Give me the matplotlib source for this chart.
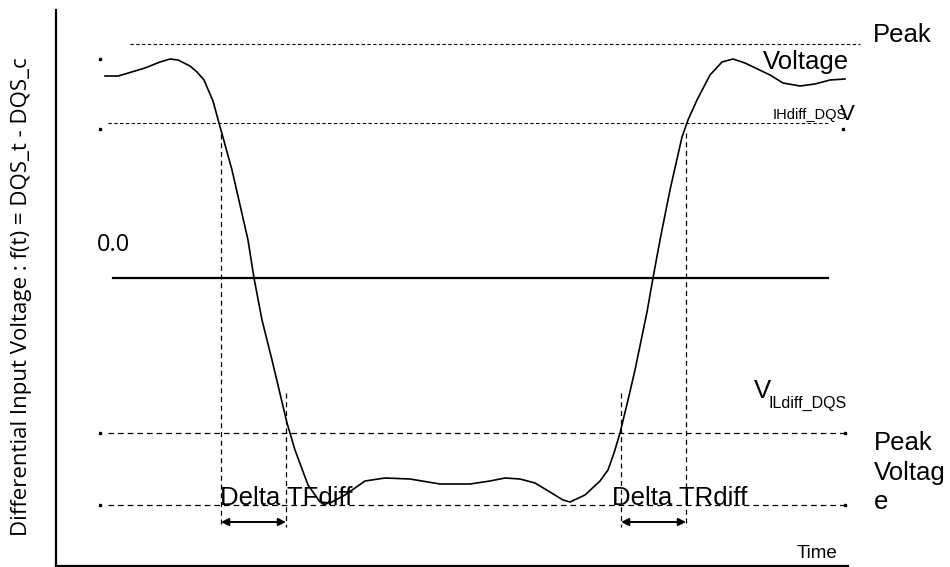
import matplotlib
matplotlib.use("Agg")
import matplotlib.pyplot as plt

# waveform (x in px from left, y in px from top)
wave_x = [105, 118, 125, 145, 160, 170, 178, 190, 197, 204, 213, 219, 232, 248, 254,
          262, 272, 287, 295, 308, 320, 330, 345, 365, 385, 410, 440, 470, 490, 505,
          520, 535, 550, 563, 570, 585, 600, 608, 614, 620, 628, 635, 647, 653, 660,
          670, 682, 688, 697, 710, 722, 733, 745, 770, 783, 800, 815, 830, 845]
wave_y = [76, 76, 74, 68, 62, 59, 60, 66, 72, 80, 101, 123, 170, 240, 278,
          320, 360, 423, 450, 485, 502, 503, 495, 481, 478, 479, 484, 484, 481, 478,
          479, 483, 492, 500, 502, 495, 481, 470, 453, 433, 400, 370, 312, 278, 240,
          190, 137, 120, 100, 75, 62, 59, 63, 75, 83, 86, 84, 80, 79]

# reference levels
peak_hi = 44
vih = 123
zero = 278
vil = 433
peak_lo = 505

# timing markers
tf_start, tf_end = 221, 286
tr_start, tr_end = 621, 686
arrow_y = 522

fig = plt.figure(figsize=(9.5, 5.67), dpi=100)
ax = fig.add_axes([0, 0, 1, 1])
ax.set_xlim(0, 950)
ax.set_ylim(567, 0)
ax.axis("off")

k = "black"
# axes
ax.plot([56, 56], [10, 566], color=k, lw=1.6)
ax.plot([56, 848], [566, 566], color=k, lw=1.6)

# horizontal levels
fine = (0, (3, 2.2))
ax.plot([130, 860], [peak_hi, peak_hi], color=k, lw=0.8, ls=fine)
ax.plot([108, 828], [vih, vih], color=k, lw=0.8, ls=fine)
ax.plot([113, 828], [zero, zero], color=k, lw=1.6)
med = (0, (4.5, 3.2))
ax.plot([108, 845], [vil, vil], color=k, lw=0.9, ls=med)
ax.plot([108, 845], [peak_lo, peak_lo], color=k, lw=0.9, ls=med)

# little end dots
ax.plot([100, 100, 100, 100, 843, 845, 845],
        [59, 129, vil, peak_lo, 129, vil, peak_lo], "s", color=k, ms=1.6)

# vertical markers
vert = (0, (4, 3))
ax.plot([tf_start, tf_start], [134, 527], color=k, lw=0.9, ls=vert)
ax.plot([tf_end, tf_end], [393, 527], color=k, lw=0.9, ls=vert)
ax.plot([tr_start, tr_start], [393, 527], color=k, lw=0.9, ls=vert)
ax.plot([tr_end, tr_end], [133, 527], color=k, lw=0.9, ls=vert)

for a, b in [(tf_start, tf_end), (tr_start, tr_end)]:
    ax.annotate("", xy=(a, arrow_y), xytext=(b, arrow_y),
                arrowprops=dict(arrowstyle="<|-|>", color=k, lw=1.4,
                                mutation_scale=11, shrinkA=0, shrinkB=0))

# waveform
ax.plot(wave_x, wave_y, color=k, lw=1.2)

sans = "Liberation Sans"
big = 18.5
ax.text(873, 35, "Peak", fontsize=big, family=sans, va="center", ha="left")
ax.text(763, 62, "Voltage", fontsize=big, family=sans, va="center", ha="left")
ax.text(773, 115, "IHdiff_DQS", fontsize=10.5, family=sans, va="center", ha="left")
ax.text(840, 114, "V", fontsize=16, family=sans, va="center", ha="left")
ax.text(97, 245, "0.0", fontsize=17, family="Open Sans", va="center", ha="left")
ax.text(754, 391, "V", fontsize=big, family=sans, va="center", ha="left")
ax.text(769, 403, "ILdiff_DQS", fontsize=11.5, family=sans, va="center", ha="left")
ax.text(874, 431, "Peak\nVoltag\ne", fontsize=big, family=sans, va="top", ha="left",
        linespacing=1.3)
ax.text(220, 498, "Delta TFdiff", fontsize=big, family=sans, va="center", ha="left")
ax.text(612, 498, "Delta TRdiff", fontsize=big, family=sans, va="center", ha="left")
ax.text(797, 554, "Time", fontsize=13.5, family=sans, va="center", ha="left")
ax.text(22, 297, "Differential Input Voltage : f(t) = DQS_t - DQS_c", fontsize=16,
        family="Open Sans", rotation=90, va="center", ha="center")

fig.savefig("out.png", dpi=100)
